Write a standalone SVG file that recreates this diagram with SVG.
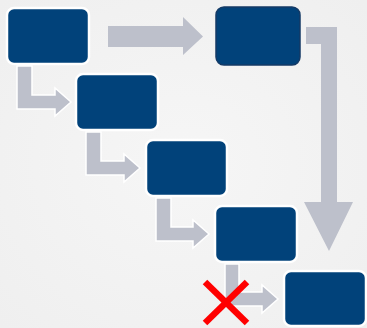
<svg xmlns="http://www.w3.org/2000/svg" width="367" height="328" viewBox="0 0 367 328">
<defs>
<style>
.box{fill:#01427A;stroke:#FFFFFF;stroke-width:2.5}
.box2{fill:#01427A;stroke:#143A66;stroke-width:1.5}
.arr{fill:#BDC0CB;stroke:#FFFFFF;stroke-width:1.5;stroke-linejoin:miter}
.big{fill:#BDC0CB}
.x{stroke:#FF0000;stroke-width:6.5;stroke-linecap:butt}
</style>
<radialGradient id="bg" cx="0.5" cy="0.5" r="0.7">
<stop offset="0" stop-color="#F6F6F6"/>
<stop offset="1" stop-color="#EFEFEF"/>
</radialGradient>
</defs>
<rect x="0" y="0" width="367" height="328" fill="url(#bg)"/>
<g id="connectors">
<polygon class="big" points="108,26 183,26 183,17 203,36.5 183,55 183,47 108,47"/>
<polygon class="big" points="306,27 337,27 337,202 353,202 329,251 304,202 321,202 321,44 306,44"/>
<polygon class="arr" points="17,66 32,66 32,95 55,95 55,88 71,102 55,116 55,109 17,109"/>
<polygon class="arr" points="86,132 101,132 101,161 124,161 124,154 140,168 124,182 124,175 86,175"/>
<polygon class="arr" points="156,198 171,198 171,227 193,227 193,220 209,234 193,248 193,241 156,241"/>
<polygon class="arr" points="225,264 239,264 239,292 262,292 262,285 278,299 262,313 262,306 225,306"/>
<g id="cross">
<line class="x" x1="205" y1="282" x2="247" y2="323"/>
<line class="x" x1="247" y1="282" x2="205" y2="323"/>
</g>
</g>
<g id="node1"><rect class="box" x="7" y="8" width="82" height="56" rx="7"/></g>
<g id="node2"><rect class="box2" x="216" y="7" width="84" height="58" rx="8"/></g>
<g id="node3"><rect class="box" x="76" y="74" width="82" height="56" rx="7"/></g>
<g id="node4"><rect class="box" x="146" y="140" width="81" height="56" rx="7"/></g>
<g id="node5"><rect class="box" x="215" y="206" width="82" height="56" rx="7"/></g>
<g id="node6"><rect class="box" x="284" y="271" width="82" height="55" rx="7"/></g>
</svg>
